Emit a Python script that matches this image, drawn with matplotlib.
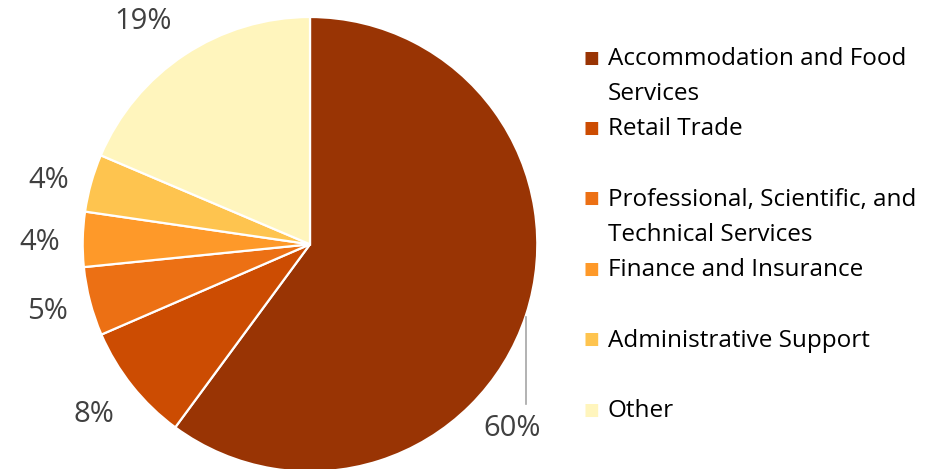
import matplotlib.pyplot as plt
import numpy as np

categories = ['Accommodation and Food\nServices', 'Retail Trade',
              'Professional, Scientific, and\nTechnical Services',
              'Finance and Insurance', 'Administrative Support', 'Other']
shares = [60.1, 8.4, 4.9, 3.9, 4.1, 18.6]
colors = ['#993404', '#CC4C02', '#EC7014', '#FE9929', '#FEC44F', '#FFF5BD']

W, H = 928, 469
cx, cy, R = 310, 244.3, 227.3  # pie centre and radius in pixels

plt.rcParams['font.family'] = ['Open Sans', 'DejaVu Sans']

fig = plt.figure(figsize=(W / 100, H / 100), dpi=100)
ax = fig.add_axes([0, 0, 1, 1])
wedges, _ = ax.pie(shares, colors=colors, startangle=90, counterclock=False,
                   wedgeprops=dict(edgecolor='white', linewidth=1.6))
ax.set_xlim(-cx / R, (W - cx) / R)
ax.set_ylim(-(H - cy) / R, cy / R)
ax.set_aspect('auto')
ax.axis('off')

for i, (w, v) in enumerate(zip(wedges, shares)):
    mid = np.deg2rad((w.theta1 + w.theta2) / 2)
    ex, ey = np.cos(mid), np.sin(mid)
    txt = f'{v:.0f}%'
    if i == 0:
        # big slice: label below with a vertical leader line
        lx, ly = ex - 0.06, ey - 0.50
        ax.plot([ex, ex], [ey - 0.01, ly + 0.11], color='#A6A6A6', lw=1.2)
        ax.text(lx, ly, txt, ha='center', va='center', fontsize=21, color='#404040')
    else:
        ha = 'right' if ex < 0 else 'left'
        if ey > 0.5:
            va, dy = 'bottom', 0
        elif ey < -0.5:
            va, dy = 'top', 0
        else:
            va, dy = 'center', -0.018  # descent makes 'center' sit high
        ax.text(1.1 * ex, 1.1 * ey + dy, txt, ha=ha, va=va,
                fontsize=21, color='#404040')

# legend drawn by hand so the square lines up with the first text line
top, step, line_h = 56, 70.4, 35
for i, (lab, c) in enumerate(zip(categories, colors)):
    y0 = top + i * step
    fig.text(591 / W, 1 - (y0 + 1.5) / H, '\u25a0', ha='center', va='center',
             fontsize=12, color=c, family='DejaVu Sans')
    for j, line in enumerate(lab.split('\n')):
        fig.text(608 / W, 1 - (y0 + j * line_h + 3) / H, line, ha='left',
                 va='center', fontsize=17.5, color='black')

fig.savefig('out.png', dpi=100)
